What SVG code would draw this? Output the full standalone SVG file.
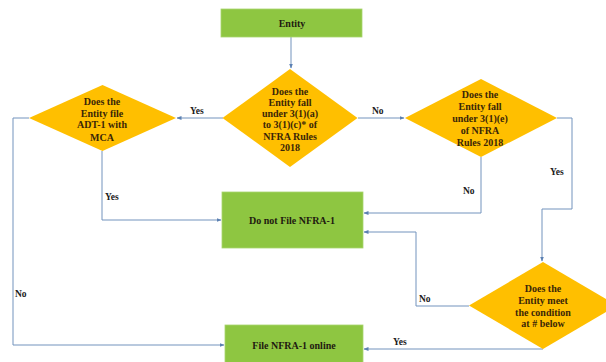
<svg xmlns="http://www.w3.org/2000/svg" width="606" height="362" viewBox="0 0 606 362">
<style>
.box{fill:#8ec641;stroke:#a9d46e;stroke-width:0.8}
.dia{fill:#ffbf00}
.t{font-family:"Liberation Serif","Times New Roman",serif;font-weight:bold;font-size:10px;fill:#1f1a10;text-anchor:middle}
.dt{font-family:"Liberation Serif","Times New Roman",serif;font-weight:bold;font-size:10px;fill:#3a2608;text-anchor:middle}
.lbl{font-family:"Liberation Serif","Times New Roman",serif;font-weight:bold;font-size:9.5px;fill:#1a1a1a}
.c{fill:none;stroke:#7393bd;stroke-width:1}
</style>
<defs>
<marker id="ah" viewBox="0 0 10 10" refX="9" refY="5" markerWidth="5" markerHeight="5" orient="auto" markerUnits="userSpaceOnUse">
<path d="M0,1 L10,5 L0,9 z" fill="#5b80b2"/>
</marker>
</defs>
<rect width="606" height="362" fill="#ffffff"/>

<g id="connectors">
<path class="c" d="M291,37 V68" marker-end="url(#ah)"/>
<path class="c" d="M223,118 H177" marker-end="url(#ah)"/>
<path class="c" d="M358,118 H404" marker-end="url(#ah)"/>
<path class="c" d="M557,118 H572 V209 H542 V261" marker-end="url(#ah)"/>
<path class="c" d="M481,157 V213 H364" marker-end="url(#ah)"/>
<path class="c" d="M102,151 V220 H221" marker-end="url(#ah)"/>
<path class="c" d="M29,118 H13 V345 H224" marker-end="url(#ah)"/>
<path class="c" d="M469,306 H416 V232 H364" marker-end="url(#ah)"/>
<path class="c" d="M543,349 H364" marker-end="url(#ah)"/>
<text class="lbl" x="190" y="114">Yes</text>
<text class="lbl" x="372" y="114">No</text>
<text class="lbl" x="550" y="175">Yes</text>
<text class="lbl" x="463" y="194">No</text>
<text class="lbl" x="105" y="200">Yes</text>
<text class="lbl" x="15" y="297">No</text>
<text class="lbl" x="419" y="302">No</text>
<text class="lbl" x="393" y="345">Yes</text>
</g>

<g id="entity">
<rect class="box" x="221" y="9" width="141" height="28"/>
<text class="t" x="292" y="26.5">Entity</text>
</g>

<g id="q-main">
<polygon class="dia" points="290,69 357.5,118 290,167 222.5,118"/>
<text class="dt" x="290" y="94.5">Does the</text>
<text class="dt" x="290" y="106">Entity  fall</text>
<text class="dt" x="290" y="117">under 3(1)(a)</text>
<text class="dt" x="290" y="128">to 3(1)(c)* of</text>
<text class="dt" x="290" y="139.5">NFRA  Rules</text>
<text class="dt" x="290" y="150.5">2018</text>
</g>

<g id="q-adt">
<polygon class="dia" points="102.5,85 176,118 102.5,151 29,118"/>
<text class="dt" x="102" y="104.5">Does the</text>
<text class="dt" x="102" y="116.5">Entity  file</text>
<text class="dt" x="102" y="128">ADT-1 with</text>
<text class="dt" x="102" y="140.5">MCA</text>
</g>

<g id="q-3e">
<polygon class="dia" points="481,79 557,118 481,157 405,118"/>
<text class="dt" x="480" y="97.5">Does the</text>
<text class="dt" x="480" y="109.5">Entity  fall</text>
<text class="dt" x="480" y="121.5">under 3(1)(e)</text>
<text class="dt" x="480" y="133.5">of NFRA</text>
<text class="dt" x="480" y="145.5">Rules 2018</text>
</g>

<g id="q-cond">
<polygon class="dia" points="543,262 617,305.5 543,349 469,305.5"/>
<text class="dt" x="543" y="291.5">Does the</text>
<text class="dt" x="543" y="304">Entity meet</text>
<text class="dt" x="543" y="315.5">the condition</text>
<text class="dt" x="543" y="327">at # below</text>
</g>

<g id="do-not-file">
<rect class="box" x="222" y="192" width="141" height="56"/>
<text class="t" x="292" y="223.5">Do not File NFRA-1</text>
</g>

<g id="file-online">
<rect class="box" x="225" y="325" width="138" height="42"/>
<text class="t" x="294" y="348.5">File NFRA-1 online</text>
</g>
</svg>
